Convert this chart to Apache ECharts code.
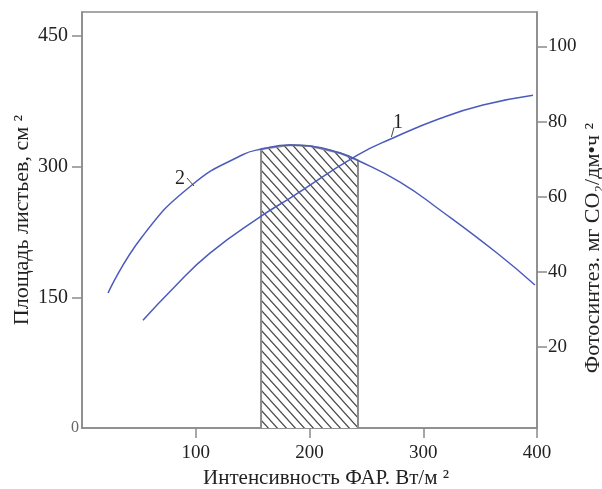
<!DOCTYPE html>
<html>
<head>
<meta charset="utf-8">
<script src="https://cdn.jsdelivr.net/npm/echarts@6/dist/echarts.min.js"></script>
<style>
  html, body { margin: 0; padding: 0; background: #fff; }
  #chart { width: 602px; height: 489px; }
</style>
</head>
<body>
<div id="chart"></div>
<script>
// curve 1 - photosynthesis (right axis)
const curve1 = [
  [53.6, 27.0], [80.0, 35.5], [112.5, 44.9], [158.2, 54.9], [182.9, 59.6],
  [241.8, 71.0], [273.4, 75.6], [314.7, 80.8], [352.5, 84.4], [396.5, 87.0]
]
// curve 2 - leaf area (left axis)
const curve2 = [
  [22.9, 155.0], [52.7, 219.3], [96.7, 279.0], [140.7, 313.4], [158.2, 320.3],
  [182.9, 324.9], [200.4, 323.7], [226.8, 315.7], [241.8, 307.7], [279.6, 282.4],
  [314.7, 250.3], [364.8, 200.9], [398.2, 164.2]
]
// hatched optimum zone under curve 2
const zone = [
  [157.4, 0], [157.4, 320.2], [182.9, 324.9], [200.4, 323.7], [226.8, 315.7], [242.6, 307.2], [242.6, 0]
]
const xTicks = [100, 200, 300, 400]
const leftTicks = [150, 300, 450]
const leftLabels = [0, 150, 300, 450]
const rightTicks = [20, 40, 60, 80, 100]

const font = 'Liberation Serif'
const axisColor = '#8a8a8a'
const textColor = '#222'
const blue = '#4b5bbd'

function hatch() {
  const c = document.createElement('canvas')
  c.width = 9
  c.height = 10
  const ctx = c.getContext('2d')
  ctx.fillStyle = '#fff'
  ctx.fillRect(0, 0, 9, 10)
  ctx.strokeStyle = '#4a4a4a'
  ctx.lineWidth = 1.2
  ctx.beginPath()
  ctx.moveTo(-1, -1.1); ctx.lineTo(10, 11.1)
  ctx.moveTo(-10, -1.1); ctx.lineTo(1, 11.1)
  ctx.moveTo(8, -1.1); ctx.lineTo(19, 11.1)
  ctx.stroke()
  return c
}

const chart = echarts.init(document.getElementById('chart'), null, { renderer: 'canvas' })
chart.setOption({
  animation: false,
  textStyle: { fontFamily: font },
  grid: {
    left: 82, right: 65, top: 12, bottom: 61,
    show: true, borderColor: axisColor, borderWidth: 1.5
  },
  xAxis: {
    type: 'value',
    min: 0,
    max: 400,
    splitLine: { show: false },
    axisLine: { lineStyle: { color: axisColor, width: 1.5 } },
    axisTick: { length: 10, customValues: xTicks, lineStyle: { color: axisColor, width: 1.5 } },
    axisLabel: { customValues: xTicks, margin: 16, color: textColor, fontSize: 19, fontFamily: font }
  },
  yAxis: [{
    type: 'value',
    position: 'left',
    min: 0,
    max: 477.6,
    splitLine: { show: false },
    axisLine: { show: true, lineStyle: { color: axisColor, width: 1.5 } },
    axisTick: { length: 10, customValues: leftTicks, lineStyle: { color: axisColor, width: 1.5 } },
    axisLabel: {
      customValues: leftLabels, margin: 3, color: textColor, fontSize: 20, fontFamily: font,
      formatter: v => v === 0 ? '{s|0}' : '{n|' + v + '}',
      rich: {
        s: { fontSize: 16, color: '#666', fontFamily: font },
        n: { fontSize: 20, color: textColor, fontFamily: font, padding: [0, 11, 0, 0] }
      }
    }
  }, {
    type: 'value',
    position: 'right',
    min: -1.7,
    max: 109.2,
    splitLine: { show: false },
    axisLine: { show: true, lineStyle: { color: axisColor, width: 1.5 } },
    axisTick: { length: 10, customValues: rightTicks, lineStyle: { color: axisColor, width: 1.5 } },
    axisLabel: { customValues: rightTicks, margin: 11, color: textColor, fontSize: 19, fontFamily: font }
  }],
  graphic: [
    { type: 'text', x: 22, y: 220, rotation: Math.PI / 2,
      style: { text: 'Площадь листьев, см ²', font: '22px ' + font, fill: textColor, align: 'center', verticalAlign: 'middle' } },
    { type: 'text', x: 593, y: 248, rotation: Math.PI / 2,
      style: { text: 'Фотосинтез. мг CO₂/дм•ч ²', font: '22px ' + font, fill: textColor, align: 'center', verticalAlign: 'middle' } },
    { type: 'text', x: 326, y: 478,
      style: { text: 'Интенсивность ФАР. Вт/м ²', font: '21px ' + font, fill: textColor, align: 'center', verticalAlign: 'middle' } }
  ],
  series: [{
    type: 'line',
    yAxisIndex: 0,
    data: zone,
    symbol: 'none',
    z: 1,
    lineStyle: { color: '#8a8a8a', width: 2 },
    areaStyle: { color: { image: hatch(), repeat: 'repeat' }, opacity: 1 }
  }, {
    type: 'line',
    yAxisIndex: 0,
    data: curve2,
    smooth: true,
    symbol: 'none',
    z: 3,
    lineStyle: { color: blue, width: 1.5 },
    markPoint: {
      symbol: 'circle', symbolSize: 1, itemStyle: { color: 'transparent' },
      label: { show: true, position: 'inside', formatter: '2', fontSize: 20, color: textColor, fontFamily: font },
      data: [{ coord: [86.2, 286.5] }]
    },
    markLine: {
      silent: true, symbol: 'none', label: { show: false },
      lineStyle: { color: '#444', width: 1, type: 'solid' },
      data: [[{ coord: [92.3, 287.0] }, { coord: [98.5, 277.8] }]]
    }
  }, {
    type: 'line',
    yAxisIndex: 1,
    data: curve1,
    smooth: true,
    symbol: 'none',
    z: 3,
    lineStyle: { color: blue, width: 1.5 },
    markPoint: {
      symbol: 'circle', symbolSize: 1, itemStyle: { color: 'transparent' },
      label: { show: true, position: 'inside', formatter: '1', fontSize: 20, color: textColor, fontFamily: font },
      data: [{ coord: [277.8, 79.6] }]
    },
    markLine: {
      silent: true, symbol: 'none', label: { show: false },
      lineStyle: { color: '#444', width: 1, type: 'solid' },
      data: [[{ coord: [274.3, 78.4] }, { coord: [272.0, 75.9] }]]
    }
  }]
})
</script>
</body>
</html>
